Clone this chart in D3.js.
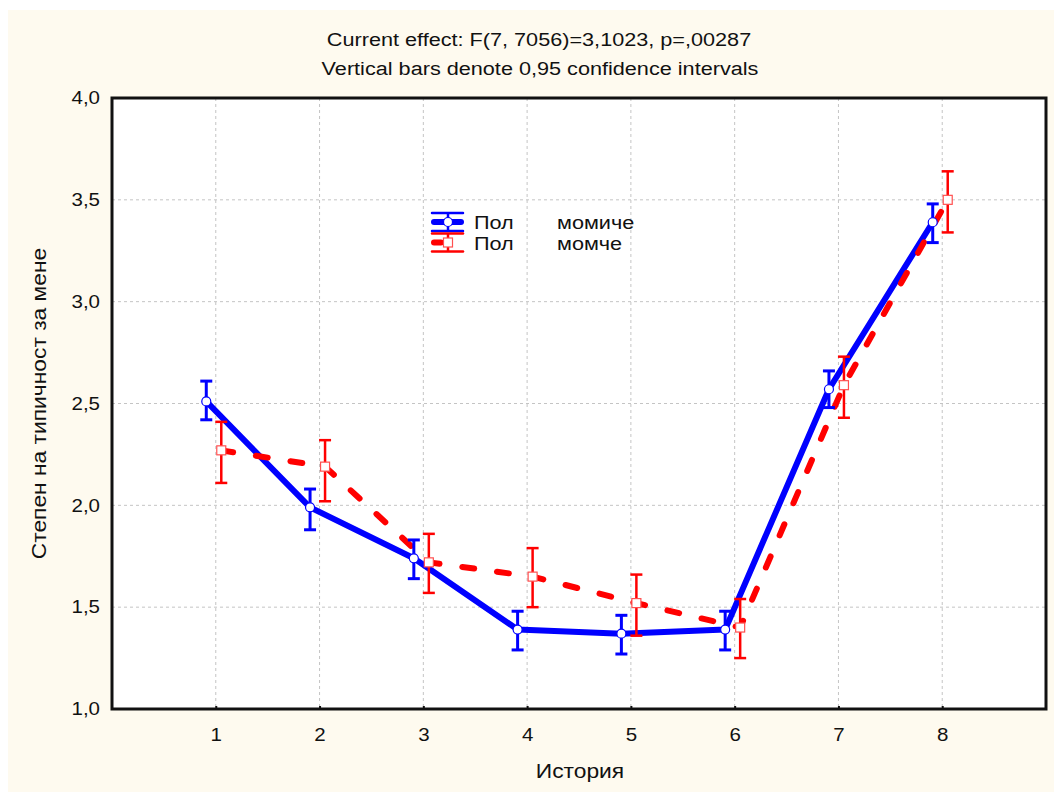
<!DOCTYPE html>
<html>
<head>
<meta charset="utf-8">
<script src="https://cdn.jsdelivr.net/npm/d3@7"></script>
<style>
  html, body { margin: 0; padding: 0; background: #fff; }
  svg { display: block; font-family: "Liberation Sans", Arial, sans-serif; }
</style>
</head>
<body>
<div id="chart"></div>
<script>
// Data
const stories = [1, 2, 3, 4, 5, 6, 7, 8];
const girlMean = [2.51, 1.99, 1.74, 1.39, 1.37, 1.39, 2.57, 3.39];
const girlLow  = [2.42, 1.88, 1.64, 1.29, 1.27, 1.29, 2.48, 3.29];
const girlHigh = [2.61, 2.08, 1.83, 1.48, 1.46, 1.48, 2.66, 3.48];
const boyMean  = [2.27, 2.19, 1.72, 1.65, 1.52, 1.40, 2.59, 3.50];
const boyLow   = [2.11, 2.02, 1.57, 1.50, 1.36, 1.25, 2.43, 3.34];
const boyHigh  = [2.41, 2.32, 1.86, 1.79, 1.66, 1.54, 2.73, 3.64];
const yTicks = [1.0, 1.5, 2.0, 2.5, 3.0, 3.5, 4.0];
const legendLabels = [["Пол", "момиче"], ["Пол", "момче"]];

const W = 1054, H = 792;
const margin = { top: 98, right: 8, bottom: 83, left: 112 };
const SX = 1.14; // the original text is a bit wide

const svg = d3.select("#chart").append("svg")
  .attr("width", W).attr("height", H);

// Cream background panel
svg.append("rect")
  .attr("x", 8).attr("y", 10).attr("width", W - 8).attr("height", H - 10)
  .attr("fill", "#fefaef");

const x = d3.scaleLinear().domain([0, 9]).range([margin.left, W - margin.right]);
const y = d3.scaleLinear().domain([1, 4]).range([H - margin.bottom, margin.top]);

// Plot area
svg.append("rect")
  .attr("x", x(0)).attr("y", y(4))
  .attr("width", x(9) - x(0)).attr("height", y(1) - y(4))
  .attr("fill", "#fff");

// Grid lines
svg.append("g")
  .selectAll("line")
  .data(yTicks.slice(1, -1))
  .join("line")
  .attr("x1", x(0)).attr("x2", x(9))
  .attr("y1", d => y(d)).attr("y2", d => y(d))
  .attr("stroke", "#c4c4c4").attr("stroke-width", 1)
  .attr("stroke-dasharray", "3,3");

svg.append("g")
  .selectAll("line")
  .data(stories)
  .join("line")
  .attr("x1", d => x(d)).attr("x2", d => x(d))
  .attr("y1", y(4)).attr("y2", y(1))
  .attr("stroke", "#c4c4c4").attr("stroke-width", 1)
  .attr("stroke-dasharray", "3,3");

// Axes
const xAxis = svg.append("g")
  .attr("transform", `translate(0,${y(1)})`)
  .call(d3.axisBottom(x).tickValues(stories).tickSize(-3).tickPadding(19).tickFormat(d3.format("d")));
xAxis.select(".domain").remove();
xAxis.selectAll(".tick line").attr("stroke", "#111").attr("stroke-width", 2);
xAxis.selectAll("text").attr("font-size", 18).attr("fill", "#111")
  .attr("transform", `scale(${SX},1)`);

const yAxis = svg.append("g")
  .attr("transform", `translate(${x(0)},0)`)
  .call(d3.axisLeft(y).tickValues(yTicks).tickSize(0).tickPadding(12)
    .tickFormat(d => d3.format(".1f")(d).replace(".", ",")));
yAxis.select(".domain").remove();
yAxis.selectAll("text").attr("font-size", 18).attr("fill", "#111")
  .attr("x", -12 / SX)
  .attr("transform", `scale(${SX},1)`);

// Frame
svg.append("rect")
  .attr("x", x(0)).attr("y", y(4))
  .attr("width", x(9) - x(0)).attr("height", y(1) - y(4))
  .attr("fill", "none").attr("stroke", "#111").attr("stroke-width", 3);

// Series
const series = [
  { mean: girlMean, low: girlLow, high: girlHigh, color: "#0000ff", dx: -9.5, dash: null, lw: 6, ew: 3, marker: "circle" },
  { mean: boyMean, low: boyLow, high: boyHigh, color: "#ff0000", dx: 5.5, dash: "12,23", lw: 6, ew: 2.5, marker: "square" }
];

const line = d3.line();

series.forEach(s => {
  const pts = stories.map((st, i) => [x(st) + s.dx, y(s.mean[i])]);
  svg.append("path")
    .attr("d", line(pts))
    .attr("fill", "none")
    .attr("stroke", s.color)
    .attr("stroke-width", s.lw)
    .attr("stroke-linejoin", "round")
    .attr("stroke-linecap", s.dash ? "round" : "butt")
    .attr("stroke-dasharray", s.dash);
});

series.forEach(s => {
  const g = svg.append("g");
  stories.forEach((st, i) => {
    const cx = x(st) + s.dx;
    g.append("line")
      .attr("x1", cx).attr("x2", cx)
      .attr("y1", y(s.low[i])).attr("y2", y(s.high[i]))
      .attr("stroke", s.color).attr("stroke-width", s.ew);
    [s.low[i], s.high[i]].forEach(v => {
      g.append("line")
        .attr("x1", cx - 6).attr("x2", cx + 6)
        .attr("y1", y(v)).attr("y2", y(v))
        .attr("stroke", s.color).attr("stroke-width", s.ew);
    });
    if (s.marker === "circle") {
      g.append("circle")
        .attr("cx", cx).attr("cy", y(s.mean[i])).attr("r", 4.5)
        .attr("fill", "#fff").attr("stroke", s.color).attr("stroke-width", 1.2);
    } else {
      g.append("rect")
        .attr("x", cx - 4.5).attr("y", y(s.mean[i]) - 4.5)
        .attr("width", 9).attr("height", 9)
        .attr("fill", "#fff").attr("stroke", "#ff5050").attr("stroke-width", 1.2);
    }
  });
});

// Legend
const legend = svg.append("g").attr("transform", "translate(432,222)");
series.forEach((s, i) => {
  const gy = i * 20.5;
  const lg = legend.append("g").attr("transform", `translate(0,${gy})`);
  lg.append("line").attr("x1", 16).attr("x2", 16).attr("y1", -9).attr("y2", 9)
    .attr("stroke", s.color).attr("stroke-width", 2.5);
  [-9, 9].forEach(dy => {
    lg.append("line").attr("x1", 0).attr("x2", 31).attr("y1", dy).attr("y2", dy)
      .attr("stroke", s.color).attr("stroke-width", 2.5).attr("stroke-linecap", "round");
  });
  lg.append("line").attr("x1", 2).attr("x2", s.dash ? 9 : 29).attr("y1", 0).attr("y2", 0)
    .attr("stroke", s.color).attr("stroke-width", 6).attr("stroke-linecap", "round");
  if (s.marker === "circle") {
    lg.append("circle").attr("cx", 16).attr("cy", 0).attr("r", 4.5)
      .attr("fill", "#fff").attr("stroke", s.color).attr("stroke-width", 1.2);
  } else {
    lg.append("rect").attr("x", 11.5).attr("y", -4.5).attr("width", 9).attr("height", 9)
      .attr("fill", "#fff").attr("stroke", "#ff5050").attr("stroke-width", 1.2);
  }
  lg.append("text").attr("transform", `translate(42,7) scale(${SX},1)`)
    .attr("font-size", 19).attr("fill", "#111")
    .text(legendLabels[i][0]);
  lg.append("text").attr("transform", `translate(125,7) scale(${SX},1)`)
    .attr("font-size", 19).attr("fill", "#111")
    .text(legendLabels[i][1]);
});

// Titles
svg.append("text")
  .attr("transform", `translate(539,46) scale(${SX},1)`)
  .attr("text-anchor", "middle")
  .attr("font-size", 19).attr("fill", "#111")
  .text("Current effect: F(7, 7056)=3,1023, p=,00287");
svg.append("text")
  .attr("transform", `translate(540,75) scale(${SX},1)`)
  .attr("text-anchor", "middle")
  .attr("font-size", 19).attr("fill", "#111")
  .text("Vertical bars denote 0,95 confidence intervals");

svg.append("text")
  .attr("transform", `translate(580,778) scale(${SX},1)`)
  .attr("text-anchor", "middle")
  .attr("font-size", 20).attr("fill", "#111")
  .text("История");

svg.append("text")
  .attr("transform", `translate(46,${(y(1) + y(4)) / 2}) rotate(-90) scale(${SX},1)`)
  .attr("text-anchor", "middle")
  .attr("font-size", 20).attr("fill", "#111")
  .text("Степен на типичност за мене");
</script>
</body>
</html>
